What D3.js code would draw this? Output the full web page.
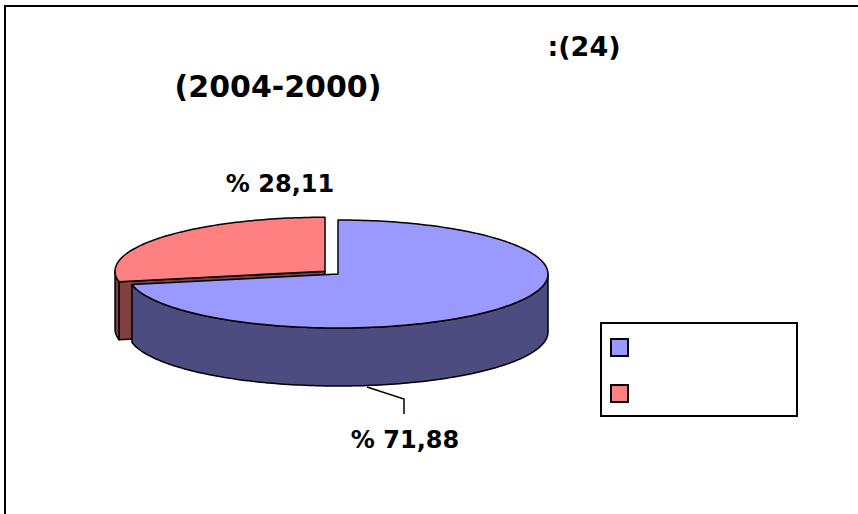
<!DOCTYPE html>
<html>
<head>
<meta charset="utf-8">
<script src="https://cdn.jsdelivr.net/npm/d3@7"></script>
<style>
  html, body { margin: 0; padding: 0; background: #fff; }
  svg { display: block; }
  text { font-family: "DejaVu Sans", sans-serif; font-weight: bold; fill: #000; }
</style>
</head>
<body>
<svg id="chart" width="858" height="514"></svg>
<script>
// Shares of the two groups over 2000-2004 (percent)
const values = [71.88, 28.11];
const legendLabels = ["", ""];
const topColors = ["#9999FF", "#FF8080"];
const sideColors = ["#4C4C80", "#804040"];
const explode = [0, 0.08];
const titleLines = [":(24)", "(2004-2000)"];

const W = 858, H = 514;
const svg = d3.select("#chart");

// outer frame (right and bottom edges run off the page)
svg.append("rect")
  .attr("x", 5).attr("y", 6).attr("width", 900).attr("height", 600)
  .attr("fill", "none").attr("stroke", "#000").attr("stroke-width", 2);

// title
svg.append("text").attr("x", 584).attr("y", 56).attr("text-anchor", "middle")
  .attr("font-size", 27).text(titleLines[0]);
svg.append("text").attr("x", 278).attr("y", 97).attr("text-anchor", "middle")
  .attr("font-size", 30).text(titleLines[1]);

// 3D pie geometry: elliptical top face extruded downward
const cx = 338, cy = 274, rx = 210, ry = 54, depth = 58;
const pie = d3.pie().sort(null).startAngle(0).endAngle(2 * Math.PI);
const arcs = pie(values);

const line = d3.line();
function rim(a, off, dy = 0) {
  return [cx + off[0] + rx * Math.sin(a), cy + off[1] - ry * Math.cos(a) + dy];
}
function sample(a0, a1) {
  const n = Math.max(2, Math.ceil(Math.abs(a1 - a0) / 0.02));
  return d3.range(n + 1).map(i => a0 + (a1 - a0) * i / n);
}

const slices = arcs.map((d, i) => {
  const mid = (d.startAngle + d.endAngle) / 2;
  const off = [explode[i] * rx * Math.sin(mid), -explode[i] * ry * Math.cos(mid)];
  return { d, i, mid, off };
});

const g = svg.append("g")
  .attr("stroke", "#000").attr("stroke-width", 1.5).attr("stroke-linejoin", "round");

// radial cut walls that face the viewer
slices.forEach(s => {
  const { d, i, off } = s;
  const c = [cx + off[0], cy + off[1]];
  [[d.startAngle, -Math.sin(d.startAngle)], [d.endAngle, Math.sin(d.endAngle)]].forEach(([a, facing]) => {
    if (facing > 1e-6) {
      const p = rim(a, off), q = rim(a, off, depth);
      g.append("path")
        .attr("d", line([c, p, q, [c[0], c[1] + depth]]) + "Z")
        .attr("fill", sideColors[i]);
    }
  });
});

// front part of the outer wall
slices.forEach(s => {
  const { d, i, off } = s;
  const b0 = Math.max(d.startAngle, Math.PI / 2);
  const b1 = Math.min(d.endAngle, 3 * Math.PI / 2);
  if (b1 > b0) {
    const topPts = sample(b0, b1).map(a => rim(a, off));
    const botPts = sample(b1, b0).map(a => rim(a, off, depth));
    g.append("path")
      .attr("d", line(topPts.concat(botPts)) + "Z")
      .attr("fill", sideColors[i]);
  }
});

// top faces
slices.forEach(s => {
  const { d, i, off } = s;
  const pts = [[cx + off[0], cy + off[1]]].concat(sample(d.startAngle, d.endAngle).map(a => rim(a, off)));
  g.append("path")
    .attr("d", line(pts) + "Z")
    .attr("fill", topColors[i]);
});

// value labels
const fmt = v => "% " + d3.format(".2f")(v).replace(".", ",");
svg.append("text").attr("x", 280).attr("y", 192).attr("text-anchor", "middle")
  .attr("font-size", 24).text(fmt(values[1]));
svg.append("text").attr("x", 405).attr("y", 448).attr("text-anchor", "middle")
  .attr("font-size", 24).text(fmt(values[0]));

// leader line from the large slice's label to its wall
svg.append("path")
  .attr("d", line([[367, 387], [404, 399], [404, 414]]))
  .attr("fill", "none").attr("stroke", "#000").attr("stroke-width", 1.5);

// legend
const lg = svg.append("g");
lg.append("rect").attr("x", 601).attr("y", 323).attr("width", 196).attr("height", 93)
  .attr("fill", "#fff").attr("stroke", "#000").attr("stroke-width", 2);
const ly = d3.scalePoint().domain(d3.range(values.length)).range([347.5, 393.5]);
values.forEach((v, i) => {
  lg.append("rect").attr("x", 611).attr("y", ly(i) - 8.5).attr("width", 17).attr("height", 17)
    .attr("fill", topColors[i]).attr("stroke", "#000").attr("stroke-width", 2);
  lg.append("text").attr("x", 640).attr("y", ly(i) + 6).attr("font-size", 16).text(legendLabels[i]);
});
</script>
</body>
</html>
